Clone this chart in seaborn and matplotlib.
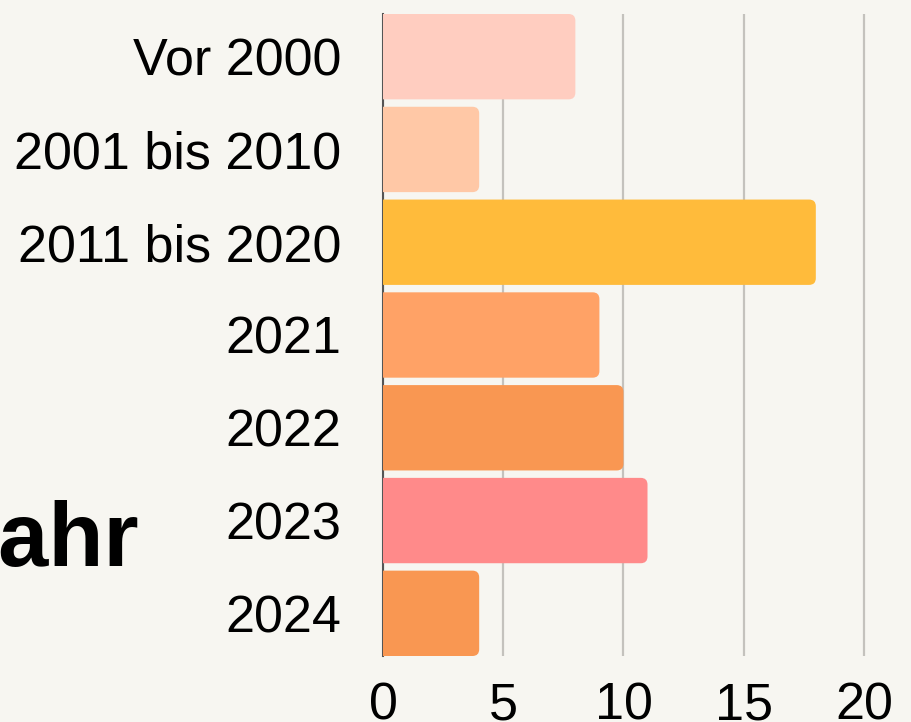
import matplotlib
matplotlib.use("Agg")
import matplotlib.pyplot as plt
import seaborn as sns
from matplotlib.patches import FancyBboxPatch

categories = ["Vor 2000", "2001 bis 2010", "2011 bis 2020", "2021", "2022", "2023", "2024"]
values = [8, 4, 18, 9, 10, 11, 4]
colors = ["#FFCDC0", "#FFC8A6", "#FFBB3B", "#FFA266", "#F99752", "#FF8A8A", "#F99752"]
x_ticks = [0, 5, 10, 15, 20]

bg = "#F7F6F1"
sns.set_style("white")
plt.rcParams["font.family"] = ["Liberation Sans", "DejaVu Sans"]
plt.rcParams["text.color"] = "black"
plt.rcParams["xtick.color"] = "black"
plt.rcParams["ytick.color"] = "black"

fig = plt.figure(figsize=(9.12, 7.22), dpi=100, facecolor=bg)
ax = fig.add_axes([383 / 912, 66 / 722, 1 - 383 / 912, 642 / 722])
ax.set_facecolor(bg)

sns.barplot(x=values, y=categories, hue=categories, palette=colors, legend=False,
            orient="h", width=0.92, saturation=1, ax=ax)

ax.set_xlim(0, 22)
ax.set_ylim(6.46, -0.46)

# rounded right corners
for p in list(ax.patches):
    x0, y0 = p.get_x(), p.get_y()
    w, h = p.get_width(), p.get_height()
    fb = FancyBboxPatch((x0 - 0.5, y0), w + 0.5, h,
                        boxstyle="round,pad=0,rounding_size=0.28",
                        mutation_aspect=0.26,
                        facecolor=p.get_facecolor(), edgecolor="none", zorder=3)
    p.remove()
    ax.add_patch(fb)

ax.set_xticks(x_ticks)
ax.xaxis.grid(True, color="#C4C2BD", linewidth=1.6, zorder=0)
ax.set_axisbelow(True)
for s in ["top", "right", "bottom"]:
    ax.spines[s].set_visible(False)
ax.spines["left"].set_color("#555555")
ax.spines["left"].set_linewidth(1.5)
ax.tick_params(axis="y", length=0, pad=30, labelsize=37.5, labelcolor="black")
ax.tick_params(axis="x", length=0, pad=18, labelsize=37.5, labelcolor="black")

ax.set_xlabel("")
ax.set_ylabel("Jahr", rotation=0, fontsize=65, fontweight="bold", color="black",
              ha="right", va="baseline")
ax.yaxis.set_label_coords((139 - 383) / 529, (656 - 566) / 642)

fig.savefig("out.png", dpi=100, facecolor=bg)
